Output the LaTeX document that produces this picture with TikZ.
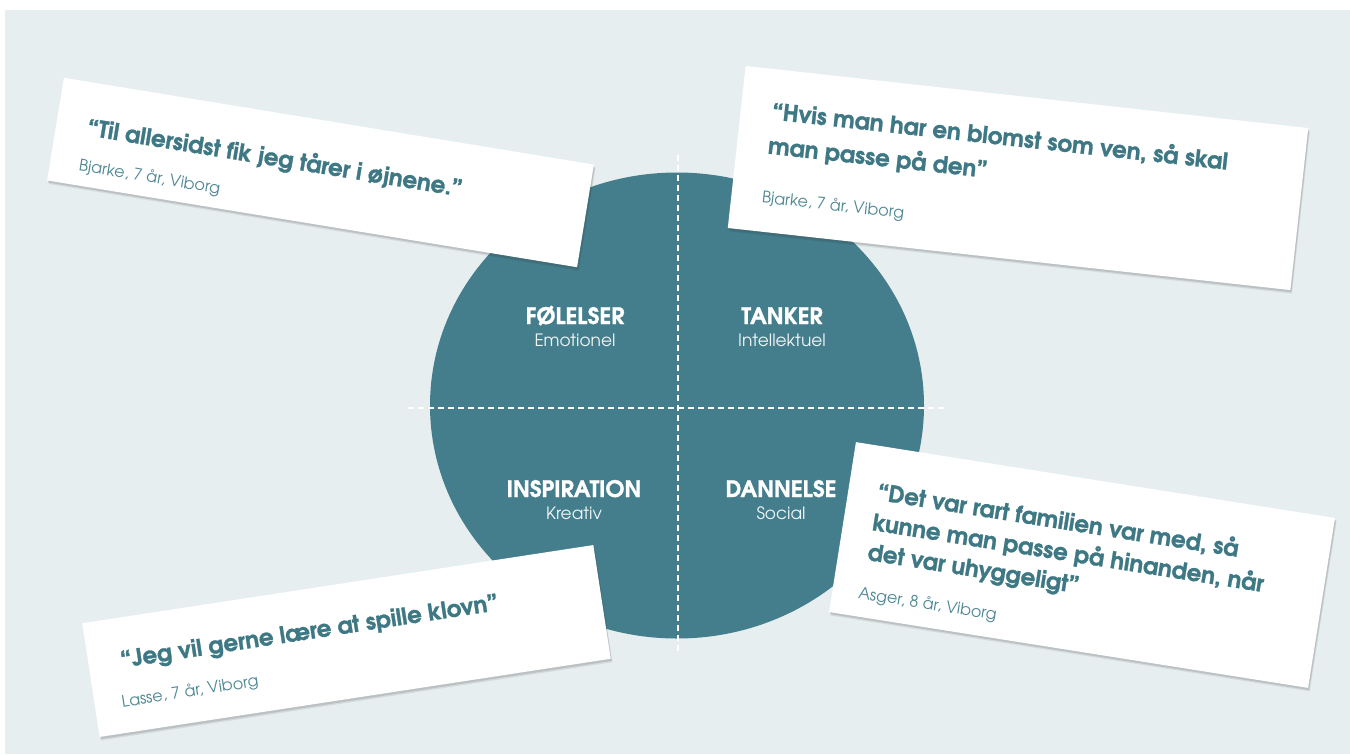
\documentclass[tikz,border=0pt]{standalone}
\usepackage{fontspec}
\newfontfamily\gothic{texgyreadventor}[Extension=.otf, UprightFont=*-regular, BoldFont=*-bold, BoldFeatures={FakeBold=1.2}]
\usetikzlibrary{shadows}
\definecolor{bg}{HTML}{E7EEF0}
\definecolor{disc}{HTML}{447E8C}
\definecolor{qtext}{HTML}{3E7884}
\definecolor{atext}{HTML}{4F8794}
\begin{document}
\begin{tikzpicture}[x=0.75pt,y=-0.75pt,
  card/.style={fill=white, draw=none, inner sep=0, transform shape,
    drop shadow={shadow xshift=1.2pt, shadow yshift=-2.6pt, opacity=0.08, fill=black},
    drop shadow={shadow xshift=0.8pt, shadow yshift=-1.6pt, opacity=0.18, fill=black!70}},
  qt/.style={font=\gothic\bfseries\fontsize{17.25}{20}\selectfont, text=qtext, anchor=base west, inner sep=0, transform shape},
  au/.style={font=\gothic\fontsize{12}{14}\selectfont, text=atext, anchor=base west, inner sep=0, transform shape},
  ttl/.style={font=\gothic\bfseries\fontsize{17}{19}\selectfont, text=white, anchor=base, inner sep=0},
  sub/.style={font=\gothic\fontsize{12.75}{15}\selectfont, text=white!92!disc, anchor=base, inner sep=0},
  divider/.style={draw=white, line width=1.1pt, dash pattern=on 4.5pt off 3pt}]
\useasboundingbox (0,0) rectangle (1350,754);
\fill[white] (0,0) rectangle (1350,754);
\fill[bg] (5,10) rectangle (1350,754);
% disc
\fill[disc] (677,405.5) ellipse [x radius=247, y radius=233];
\coordinate (vtop) at (678,155);
\coordinate (vbot) at (678,655);
\coordinate (hl) at (408,408);
\coordinate (hr) at (948,408);
\draw[divider] (vtop) -- (vbot);
\draw[divider] (hl) -- (hr);
% quadrant labels
\node[ttl] (t1) at (575,324) {FØLELSER};
\node[sub] (s1) at (575,346) {Emotionel};
\node[ttl] (t2) at (782,324) {TANKER};
\node[sub] (s2) at (782,346) {Intellektuel};
\node[ttl] (t3) at (574,497) {INSPIRATION};
\node[sub] (s3) at (574,519) {Kreativ};
\node[ttl] (t4) at (781,497) {DANNELSE};
\node[sub] (s4) at (781,519) {Social};
% card 1
\begin{scope}[shift={(320.5,172.5)}, rotate=-9.3]
  \node[card, minimum width=537*0.75pt, minimum height=104*0.75pt] (c1) at (0,0) {};
  \node[qt] (q1) at (-237.5,1) {“Til allersidst fik jeg tårer i øjnene.”};
  \node[au] (a1) at (-239.5,37.5) {Bjarke, 7 år, Viborg};
\end{scope}
% card 2
\begin{scope}[shift={(1018,178)}, rotate=-6.3]
  \node[card, minimum width=566*0.75pt, minimum height=163*0.75pt] (c2) at (0,0) {};
  \node[qt] (q2a) at (-252,-31.2) {“Hvis man har en blomst som ven, så skal};
  \node[qt] (q2b) at (-252,3.2) {man passe på den”};
  \node[au] (a2) at (-252.5,52.7) {Bjarke, 7 år, Viborg};
\end{scope}
% card 3
\begin{scope}[shift={(346.5,641)}, rotate=8.7]
  \node[card, minimum width=517*0.75pt, minimum height=115*0.75pt] (c3) at (0,0) {};
  \node[qt] (q3) at (-226.5,-7.5) {“Jeg vil gerne lære at spille klovn”};
  \node[au] (a3) at (-231.5,31.5) {Lasse, 7 år, Viborg};
\end{scope}
% card 4
\begin{scope}[shift={(1082,565)}, rotate=-9]
  \node[card, minimum width=485*0.75pt, minimum height=172*0.75pt] (c4) at (0,0) {};
  \node[qt] (q4a) at (-213.5,-32.3) {“Det var rart familien var med, så};
  \node[qt] (q4b) at (-213.5,-1.6) {kunne man passe på hinanden, når};
  \node[qt] (q4c) at (-213.5,28.6) {det var uhyggeligt”};
  \node[au] (a4) at (-216.5,68) {Asger, 8 år, Viborg};
\end{scope}
\end{tikzpicture}
\end{document}
